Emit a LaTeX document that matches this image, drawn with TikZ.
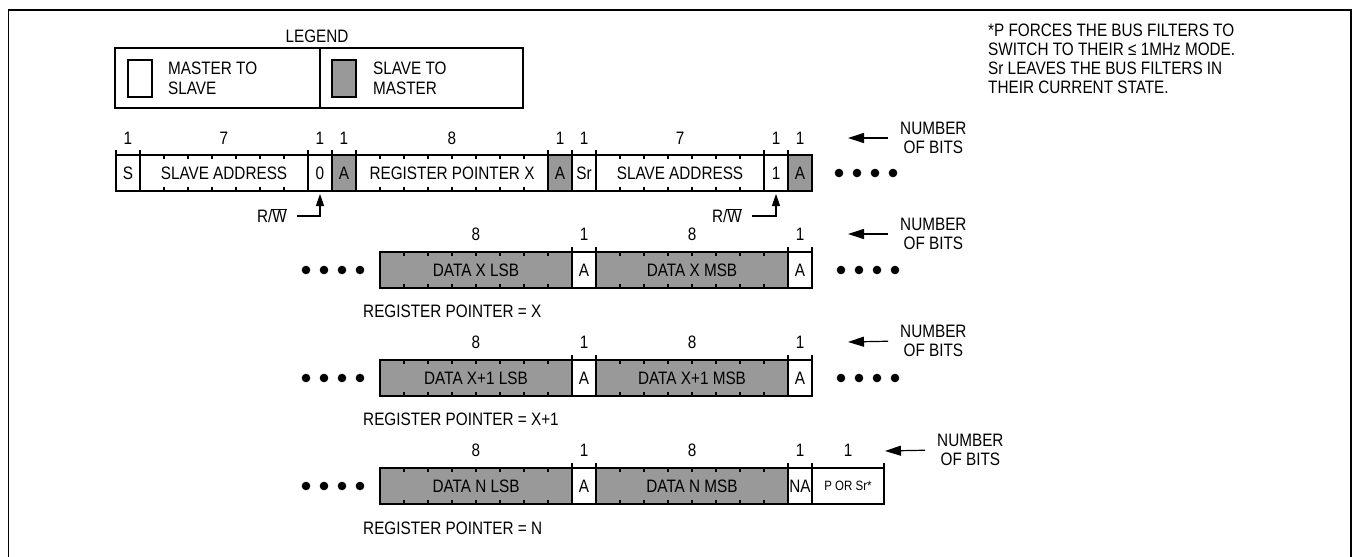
\documentclass[tikz,border=0pt]{standalone}
\usepackage{fontspec}
\setmainfont{Liberation Sans}[FakeStretch=0.85]
\usetikzlibrary{arrows.meta}
\definecolor{sgray}{RGB}{153,153,153}

\begin{document}
\begin{tikzpicture}[x=1pt, y=-1pt, font=\fontsize{18}{19.5}\selectfont,
  field/.style={draw, line width=1.2pt, inner sep=0pt, outer sep=0pt, anchor=north west, minimum height=36pt},
  sfield/.style={field, fill=sgray},
  bitnum/.style={inner sep=0pt},
  nbits/.style={anchor=west, align=center, inner sep=0pt},
  ptr/.style={anchor=west, inner sep=0pt},
  nbarrow/.style={line width=1.2pt, shorten <=12pt, -{Triangle[length=16pt,width=10pt]}},
  rwarrow/.style={line width=1.2pt, shorten <=10pt, shorten >=3pt, -{Triangle[length=12pt,width=8pt]}}]
\useasboundingbox (0,0) rectangle (1353,557);
% frame, open at the bottom
\draw[line width=1.5pt] (8.5,557) |- (1351,10) -- (1351,557);

% legend
\node (legtitle) at (317,36) {LEGEND};
\node[field, minimum width=205pt, minimum height=60pt] (legm) at (115,48) {};
\node[field, minimum width=203pt, minimum height=60pt] (legs) at (320,48) {};
\node[field, minimum width=24pt, minimum height=37pt] (keym) at (128,60) {};
\node[sfield, minimum width=24pt, minimum height=37pt] (keys) at (332,60) {};
\node[anchor=west, align=left, inner sep=0pt, font=\fontsize{18}{20}\selectfont] (legmtxt) at (168,78) {MASTER TO\\SLAVE};
\node[anchor=west, align=left, inner sep=0pt, font=\fontsize{18}{20}\selectfont] (legstxt) at (373,78) {SLAVE TO\\MASTER};

% note
\node[anchor=west, align=left, inner sep=0pt, font=\fontsize{18}{19}\selectfont] (note) at (988,58.5)
  {*P FORCES THE BUS FILTERS TO\\SWITCH TO THEIR ≤ 1MHz MODE.\\Sr LEAVES THE BUS FILTERS IN\\THEIR CURRENT STATE.};

% row 1: address and pointer write
\node[field, minimum width=24pt] (f1s) at (116,155) {S};
\node[field, minimum width=168pt] (f1addr) at (140,155) {SLAVE ADDRESS};
\node[field, minimum width=24pt] (f1rw) at (308,155) {0};
\node[sfield, minimum width=24pt] (f1ack) at (332,155) {A};
\node[field, minimum width=192pt] (f1reg) at (356,155) {REGISTER POINTER X};
\node[sfield, minimum width=24pt] (f1ackb) at (548,155) {A};
\node[field, minimum width=24pt] (f1sr) at (572,155) {Sr};
\node[field, minimum width=168pt] (f1addrb) at (596,155) {SLAVE ADDRESS};
\node[field, minimum width=24pt] (f1rwb) at (764,155) {1};
\node[sfield, minimum width=24pt] (f1ackc) at (788,155) {A};

% rows 2-4: data read
\node[sfield, minimum width=192pt] (f2lsb) at (380,252) {DATA X LSB};
\node[field, minimum width=24pt] (f2ack) at (572,252) {A};
\node[sfield, minimum width=192pt] (f2msb) at (596,252) {DATA X MSB};
\node[field, minimum width=24pt] (f2ackb) at (788,252) {A};

\node[sfield, minimum width=192pt] (f3lsb) at (380,360) {DATA X+1 LSB};
\node[field, minimum width=24pt] (f3ack) at (572,360) {A};
\node[sfield, minimum width=192pt] (f3msb) at (596,360) {DATA X+1 MSB};
\node[field, minimum width=24pt] (f3ackb) at (788,360) {A};

\node[sfield, minimum width=192pt] (f4lsb) at (380,468) {DATA N LSB};
\node[field, minimum width=24pt] (f4ack) at (572,468) {A};
\node[sfield, minimum width=192pt] (f4msb) at (596,468) {DATA N MSB};
\node[field, minimum width=24pt] (f4nack) at (788,468) {NA};
\node[field, minimum width=72pt, font=\fontsize{13.5}{15}\selectfont] (f4stop) at (812,468) {P OR Sr*};

% bit ticks
\foreach \xs/\n/\t in {140/7/155, 356/8/155, 596/7/155, 380/8/252, 596/8/252, 380/8/360, 596/8/360, 380/8/468, 596/8/468} {
  \pgfmathtruncatemacro{\m}{\n-1}
  \foreach \k in {1,...,\m} {
    \draw[line width=1.2pt] (\xs+24*\k,\t) -- ++(0,4) (\xs+24*\k,\t+36) -- ++(0,-4);
  }
}
% field borders above the frame
\foreach \x/\t in {116/155, 140/155, 308/155, 332/155, 356/155, 548/155, 572/155, 596/155, 764/155, 788/155,
  572/252, 596/252, 788/252, 812/252, 572/360, 596/360, 788/360, 812/360, 572/468, 596/468, 788/468, 812/468, 884/468}
  \draw[line width=1.5pt] (\x,\t-5) -- (\x,\t);

% number of bits
\foreach \x/\b [count=\i] in {128/1, 224/7, 320/1, 344/1, 452/8, 560/1, 584/1, 680/7, 776/1, 800/1}
  \node[bitnum] (bn1-\i) at (\x,138) {\b};
\foreach \r/\y in {2/234, 3/342, 4/450}
  \foreach \x/\b [count=\i] in {476/8, 584/1, 692/8, 800/1}
    \node[bitnum] (bn\r-\i) at (\x,\y) {\b};
\node[bitnum] (bn4-5) at (848,450) {1};

\node[nbits] (nb1) at (900,138) {NUMBER\\OF BITS};
\node[nbits] (nb2) at (900,234) {NUMBER\\OF BITS};
\node[nbits] (nb3) at (900,341) {NUMBER\\OF BITS};
\node[nbits] (nb4) at (937,450) {NUMBER\\OF BITS};
\coordinate (nbt1) at (848,138);
\coordinate (nbt2) at (848,234);
\coordinate (nbt3) at (848,342);
\coordinate (nbt4) at (885,451);
\foreach \r in {1,...,4} \draw[nbarrow] (nb\r.west) -- (nbt\r);

% read/write bit markers
\node[inner sep=0pt, anchor=east, text height=13pt, text depth=0pt] (rw1) at (287,216) {R/$\overline{\hbox{W}}$};
\node[inner sep=0pt, anchor=east, text height=13pt, text depth=0pt] (rw2) at (742,216) {R/$\overline{\hbox{W}}$};
\draw[rwarrow] (rw1.east) -| (f1rw.south);
\draw[rwarrow] (rw2.east) -| (f1rwb.south);

% continuation dots
\foreach \x in {839,857,875,893} \fill (\x,173) circle (4.3pt);
\foreach \y in {270,378} {
  \foreach \x in {306,324,342,360} \fill (\x,\y) circle (4.3pt);
  \foreach \x in {841,859,877,895} \fill (\x,\y) circle (4.3pt);
}
\foreach \x in {306,324,342,360} \fill (\x,486) circle (4.3pt);

% register pointer values
\node[ptr] (rp2) at (363,311) {REGISTER POINTER = X};
\node[ptr] (rp3) at (363,419) {REGISTER POINTER = X+1};
\node[ptr] (rp4) at (363,528) {REGISTER POINTER = N};
\end{tikzpicture}
\end{document}
